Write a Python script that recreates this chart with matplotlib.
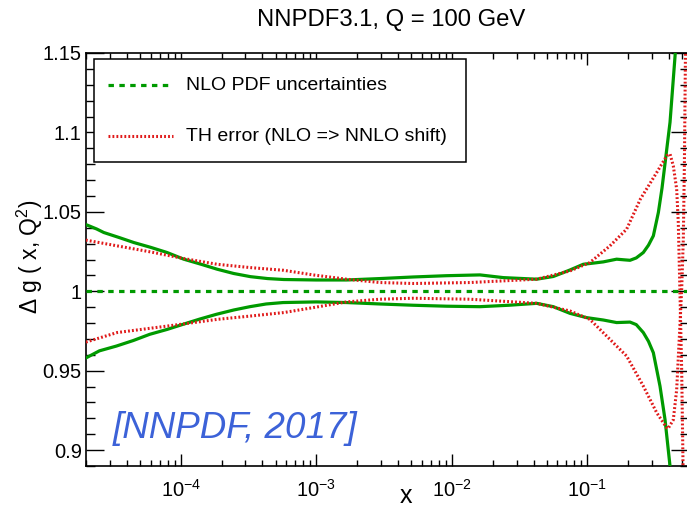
import numpy as np
import matplotlib
matplotlib.use("Agg")
import matplotlib.pyplot as plt
from matplotlib.patches import Rectangle
from matplotlib.lines import Line2D
from matplotlib.ticker import FixedLocator, MultipleLocator, NullFormatter

plt.rcParams['font.family'] = ['Liberation Sans', 'DejaVu Sans']
plt.rcParams['mathtext.fontset'] = 'custom'
plt.rcParams['mathtext.rm'] = 'Liberation Sans'
plt.rcParams['mathtext.it'] = 'Liberation Sans:italic'

# ---------------- data ----------------
title = "NNPDF3.1, Q = 100 GeV"
legend_labels = ["NLO PDF uncertainties", "TH error (NLO => NNLO shift)"]
central = 1.0

# PDF uncertainty band (green), log10(x) and ratio
pdf_up_logx = [-4.70, -4.62, -4.568, -4.45, -4.347, -4.22, -4.101, -3.978, -3.85, -3.732,
               -3.61, -3.486, -3.36, -3.24, -3.0, -2.777, -2.53, -2.285, -2.04, -1.793,
               -1.621, -1.375, -1.252, -1.129, -1.031, -0.95, -0.883, -0.785,
               -0.73, -0.686, -0.64, -0.588, -0.55, -0.514, -0.477, -0.45, -0.421,
               -0.391, -0.354, -0.345]
pdf_up = [1.0420, 1.0392, 1.0370, 1.0337, 1.0307, 1.0276, 1.0244, 1.0202, 1.0170, 1.0139,
          1.0112, 1.0092, 1.0080, 1.0074, 1.0071, 1.0071, 1.0080, 1.0090, 1.0098, 1.0103,
          1.0086, 1.0076, 1.0093, 1.0134, 1.0170, 1.0178, 1.0185, 1.0202,
          1.0198, 1.0195, 1.0210, 1.0244, 1.0290, 1.0349, 1.0496, 1.0650, 1.0853,
          1.1064, 1.1480, 1.1600]
pdf_dn_logx = [-4.70, -4.60, -4.475, -4.35, -4.229, -4.10, -3.983, -3.86, -3.737, -3.61,
               -3.49, -3.37, -3.245, -3.0, -2.777, -2.53, -2.285, -2.04, -1.793, -1.58,
               -1.375, -1.252, -1.129, -1.006, -0.883, -0.785, -0.686, -0.64, -0.588,
               -0.55, -0.514, -0.465, -0.428, -0.391, -0.385]
pdf_dn = [0.9580, 0.9625, 0.9655, 0.9690, 0.9729, 0.9760, 0.9792, 0.9825, 0.9855, 0.9882,
          0.9903, 0.9920, 0.9929, 0.9933, 0.9929, 0.9920, 0.9912, 0.9906, 0.9903, 0.9912,
          0.9924, 0.9903, 0.9861, 0.9834, 0.9819, 0.9803, 0.9806, 0.9790, 0.9740,
          0.9685, 0.9613, 0.9403, 0.9193, 0.8899, 0.8850]

# theory error (red)
th_up_logx = [-4.70, -4.47, -4.224, -3.978, -3.732, -3.486, -3.24, -3.024, -2.777,
              -2.531, -2.285, -1.867, -1.375, -1.129, -0.982, -0.834, -0.711, -0.61,
              -0.489, -0.415, -0.391, -0.367, -0.342, -0.33, -0.318, -0.305, -0.295, -0.29]
th_up = [1.0322, 1.0286, 1.0248, 1.0206, 1.0170, 1.0149, 1.0132, 1.0103, 1.0076,
         1.0055, 1.0049, 1.0055, 1.0076, 1.0128, 1.0181, 1.0286, 1.0391, 1.0580,
         1.0748, 1.0853, 1.0864, 1.0790, 1.0643, 1.0433, 1.0000, 0.9500, 0.8900, 0.8700]
th_dn_logx = [-4.70, -4.47, -4.0, -3.732, -3.486, -3.24, -3.024, -2.777, -2.531,
              -2.285, -1.867, -1.375, -1.129, -0.982, -0.834, -0.711, -0.588, -0.489,
              -0.415, -0.406, -0.367, -0.342, -0.323, -0.305, -0.293, -0.285, -0.278, -0.275]
th_dn = [0.9680, 0.9740, 0.9792, 0.9823, 0.9844, 0.9866, 0.9897, 0.9933, 0.9950,
         0.9956, 0.9950, 0.9924, 0.9876, 0.9823, 0.9697, 0.9592, 0.9403, 0.9235,
         0.9140, 0.9135, 0.9190, 0.9380, 0.9700, 1.0010, 1.0330, 1.0800, 1.1420, 1.1600]

yticks = [0.9, 0.95, 1.0, 1.05, 1.1, 1.15]
ytick_labels = ["0.9", "0.95", "1", "1.05", "1.1", "1.15"]
xlim = (2.0e-5, 0.561)
ylim = (0.89, 1.15)

green = '#009a00'
red = '#e01a1a'
blue = '#3c62d8'

W, H = 687, 509
fig = plt.figure(figsize=(W / 100, H / 100), dpi=100)
ax = fig.add_axes([86 / W, 43 / H, 603 / W, 413 / H])

ax.set_xscale('log')
ax.set_xlim(*xlim)
ax.set_ylim(*ylim)

ax.axhline(central, color=green, lw=2.3, ls=(0, (1.7, 1.7)), zorder=3)
ax.plot(10 ** np.array(pdf_up_logx), pdf_up, color=green, lw=2.3, zorder=4)
ax.plot(10 ** np.array(pdf_dn_logx), pdf_dn, color=green, lw=2.3, zorder=4)
ax.plot(10 ** np.array(th_up_logx), th_up, color=red, lw=2.2, ls=(0, (0.6, 0.7)), zorder=5)
ax.plot(10 ** np.array(th_dn_logx), th_dn, color=red, lw=2.2, ls=(0, (0.6, 0.7)), zorder=5)

ax.yaxis.set_major_locator(FixedLocator(yticks))
ax.set_yticklabels(ytick_labels)
ax.yaxis.set_minor_locator(MultipleLocator(0.01))
ax.xaxis.set_minor_formatter(NullFormatter())

ax.tick_params(which='both', direction='in', top=True, right=True, width=1.0,
               labelsize=14.5, color='black')
ax.tick_params(axis='y', which='major', length=13, pad=3)
ax.tick_params(axis='y', which='minor', length=6.5)
ax.tick_params(axis='x', which='major', length=8.6, pad=9)
ax.tick_params(axis='x', which='minor', length=4.5)
for s in ax.spines.values():
    s.set_linewidth(1.2)

# legend (drawn manually as in the original ROOT box)
fig.patches.append(Rectangle((94 / W, 1 - 162 / H), 372 / W, 103 / H,
                             transform=fig.transFigure, facecolor='white',
                             edgecolor='black', lw=1.1, zorder=10))
fig.lines.append(Line2D([108 / W, 173 / W], [1 - 85 / H, 1 - 85 / H],
                        transform=fig.transFigure, color=green, lw=2.3,
                        ls=(0, (1.7, 1.7)), zorder=11))
fig.lines.append(Line2D([108 / W, 173 / W], [1 - 136 / H, 1 - 136 / H],
                        transform=fig.transFigure, color=red, lw=2.2,
                        ls=(0, (0.6, 0.7)), zorder=11))
fig.text(186 / W, 1 - 85 / H, legend_labels[0], fontsize=14, va='center', ha='left', zorder=12)
fig.text(186 / W, 1 - 136 / H, legend_labels[1], fontsize=14, va='center', ha='left', zorder=12)

fig.text(391 / W, 1 - 20 / H, title, fontsize=17.2, ha='center', va='center')
fig.text(113 / W, 1 - 429 / H, '[NNPDF, 2017]', fontsize=26.5, style='italic',
         color=blue, ha='left', va='center')
fig.text(30 / W, 1 - 257 / H, 'Δ g ( x, Q$^{2}$)', fontsize=16.5, rotation=90,
         ha='center', va='center')
fig.text(406 / W, 1 - 508 / H, 'x', fontsize=18, ha='center', va='bottom')

fig.savefig('out.png', dpi=100)
